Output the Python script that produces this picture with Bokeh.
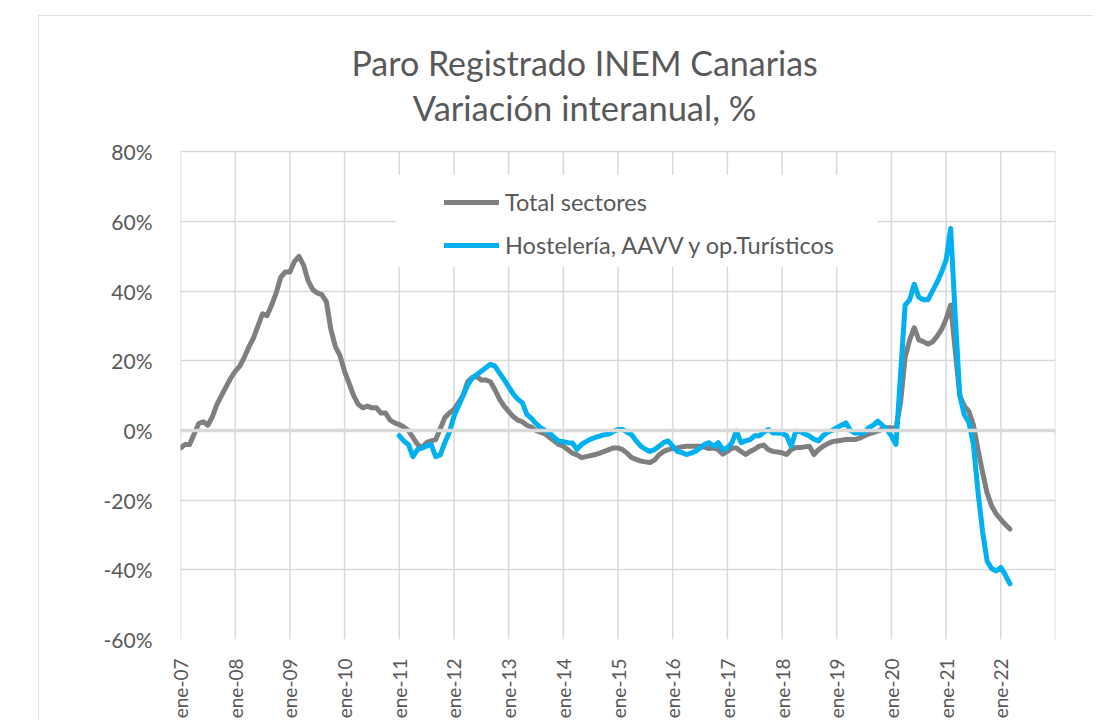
import numpy as np
from bokeh.plotting import figure
from bokeh.models import (FixedTicker, Legend, LegendItem, Span, Label,
                          BoxAnnotation, Range1d)
from bokeh.embed import file_html
from bokeh.resources import INLINE

# ---------------- data ----------------
title_line1 = "Paro Registrado INEM Canarias"
title_line2 = "Variación interanual, %"
series_names = ["Total sectores", "Hostelería, AAVV y op.Turísticos"]

tick_years = list(range(2007, 2024))
tick_labels = ["ene-07", "ene-08", "ene-09", "ene-10", "ene-11", "ene-12",
               "ene-13", "ene-14", "ene-15", "ene-16", "ene-17", "ene-18",
               "ene-19", "ene-20", "ene-21", "ene-22", ""]
y_ticks = [-60, -40, -20, 0, 20, 40, 60, 80]

total_start_year = 2007   # first monthly value: ene-07
total_sectores = [
    -5, -4, -4, -1, 2, 2.5, 1.5, 4, 7.5, 10, 12.5, 15,                 # 2007
    17, 18.5, 21, 24, 26.5, 30, 33.5, 33, 36, 39.5, 44, 45.5,          # 2008
    45.5, 48.5, 50, 47.5, 43, 40.5, 39.5, 39, 37, 29, 24, 21.5,        # 2009
    17, 13.5, 10, 7.5, 6.5, 7, 6.5, 6.5, 5, 5, 3, 2.2,                 # 2010
    1.7, 1, 0, -2, -4, -5, -3.5, -3, -2.6, 0.5, 3.7, 5,                # 2011
    6, 8, 10, 14, 15.2, 15.5, 14.5, 14.5, 14, 11.7, 9, 7,              # 2012
    5.5, 4, 3, 2.5, 1.5, 1, 0, -0.5, -1, -2, -3, -4,                   # 2013
    -4.5, -5.5, -6.5, -7, -7.8, -7.5, -7.2, -6.9, -6.5, -6, -5.5, -5,  # 2014
    -5, -5.5, -6.5, -7.8, -8.3, -8.8, -9, -9.2, -8.5, -7, -6, -5.5,    # 2015
    -5.2, -5, -4.7, -4.5, -4.5, -4.5, -4.5, -4.8, -5.2, -5, -5.5, -6.8,# 2016
    -6, -5, -5, -6, -6.9, -6, -5.4, -4.5, -4.2, -5.5, -6, -6.2,        # 2017
    -6.4, -6.9, -5.5, -4.9, -4.9, -4.7, -4.5, -6.9, -5.5, -4.5, -3.8, -3.2,  # 2018
    -3, -2.8, -2.6, -2.6, -2.6, -2.2, -1.6, -1, -0.6, -0.2, 0.4, 0.8,  # 2019
    0.8, 0.6, 8, 21, 26, 29.5, 26, 25.5, 24.8, 25.4, 27, 29,           # 2020
    32, 36, 23, 10, 7, 5.5, 1.5, -5.5, -12, -18, -21.7, -24,           # 2021
    -25.5, -27, -28.3,                                                 # 2022
]

hosteleria_start_year = 2011   # first monthly value: ene-11
hosteleria = [
    -1.5, -3, -4, -7.5, -5.5, -5, -4.5, -4, -7.5, -7, -3.5, -0.5,      # 2011
    4, 7, 10, 13, 15, 16, 17, 18, 19, 18.5, 16.5, 14.6,                # 2012
    12.6, 10.5, 9, 8, 4.6, 3.5, 2, 0.8, 0, -0.7, -2, -3,               # 2013
    -3.2, -3.5, -3.6, -5.4, -4, -3.2, -2.5, -2, -1.6, -1.2, -1, -0.3,  # 2014
    0.3, 0.3, -0.5, -1.2, -3, -4.5, -5.4, -6, -5.5, -4.5, -3.5, -3,    # 2015
    -4.5, -6, -6.3, -6.9, -6.5, -6, -5, -4, -3.5, -4.5, -3.5, -5.5,    # 2016
    -5, -3.5, -0.2, -3.5, -3, -2.6, -1.5, -1.5, -0.5, 0.3, -0.7, -0.7, # 2017
    -0.8, -1.5, -4.5, -0.2, -0.3, -1, -1.6, -2.5, -3, -1.5, -0.5, 0,   # 2018
    0.8, 1.5, 2.2, 0, -0.7, -0.7, -0.7, 0.8, 1.5, 2.7, 1.5, 0.3,       # 2019
    -1.6, -4, 16, 36, 37.5, 42, 38.3, 37.5, 37.5, 40, 42.5, 45.5,      # 2020
    49, 58, 33, 10, 4.5, 2.3, -4, -17.7, -29, -37.5, -39.7, -40.3,     # 2021
    -39.3, -41.5, -44,                                                 # 2022
]

# month positions on a fractional-year axis
x_total = [total_start_year + i / 12 for i in range(len(total_sectores))]
x_host = [hosteleria_start_year + i / 12 for i in range(len(hosteleria))]

# ---------------- styling ----------------
FONT = "Lato"
TXT = "#595959"
GRID = "#d9d9d9"
GRAY = "#7f7f7f"
BLUE = "#00b0f0"

# the frame extends above the 80% gridline to hold the two-line title
y_top = 117.7
title_x = 2014.39

p = figure(width=1055, height=706, output_backend="svg", toolbar_location=None,
           x_range=Range1d(tick_years[0], tick_years[-1]),
           y_range=Range1d(y_ticks[0], y_top),
           min_border_left=142, min_border_right=38,
           min_border_top=5, min_border_bottom=80)
p.margin = (15, 0, 0, 38)
p.styles = {"outline": "1.5px solid #d9d9d9", "outline-offset": "-1px"}
p.outline_line_color = None
p.background_fill_color = "white"
p.border_fill_color = "white"

# axes
p.xaxis.ticker = FixedTicker(ticks=tick_years)
p.xaxis.major_label_overrides = {y: l for y, l in zip(tick_years, tick_labels)}
p.xaxis.major_label_orientation = np.pi / 2
p.xaxis.axis_line_color = None
p.xaxis.major_tick_line_color = None
p.xaxis.minor_tick_line_color = None
p.xaxis.major_label_standoff = 13
p.xaxis.major_label_text_font = FONT
p.xaxis.major_label_text_font_size = "19px"
p.xaxis.major_label_text_color = TXT

p.yaxis.ticker = FixedTicker(ticks=y_ticks)
p.yaxis.major_label_overrides = {v: f"{v}%" for v in y_ticks}
p.yaxis.axis_line_color = None
p.yaxis.major_tick_line_color = None
p.yaxis.minor_tick_line_color = None
p.yaxis.major_label_standoff = 22
p.yaxis.major_label_text_font = FONT
p.yaxis.major_label_text_font_size = "21px"
p.yaxis.major_label_text_color = TXT

p.xgrid.visible = False
p.ygrid.ticker = FixedTicker(ticks=y_ticks)
p.ygrid.grid_line_color = GRID
p.ygrid.grid_line_width = 1.5

# vertical gridlines limited to the value range
p.segment(x0=tick_years, y0=[y_ticks[0]] * len(tick_years), x1=tick_years,
          y1=[y_ticks[-1]] * len(tick_years), line_color=GRID, line_width=1.5)

# horizontal category axis crossing at 0
p.add_layout(Span(location=0, dimension="width", line_color=GRID, line_width=3.5))
p.segment(x0=tick_years, y0=[0] * len(tick_years), x1=tick_years,
          y1=[-1.6] * len(tick_years), line_color=GRID, line_width=1.5)

r_total = p.line(x_total, total_sectores, line_color=GRAY, line_width=5,
                 line_join="round", line_cap="round")
r_host = p.line(x_host, hosteleria, line_color=BLUE, line_width=5,
                line_join="round", line_cap="round")

# white legend area (covers gridlines like the original)
p.add_layout(BoxAnnotation(left=2010.93, right=2019.75, top=73.4, bottom=46.9,
                           fill_color="white", fill_alpha=1, line_color=None))

legend = Legend(items=[LegendItem(label=series_names[0], renderers=[r_total]),
                       LegendItem(label=series_names[1], renderers=[r_host])],
                location=(264, 380), orientation="vertical",
                glyph_width=55, glyph_height=28, label_height=28,
                spacing=15, padding=15, label_standoff=6,
                label_text_font=FONT, label_text_font_size="23.5px",
                label_text_color=TXT, border_line_color=None,
                background_fill_alpha=0)
p.add_layout(legend)

# title (two lines, centred over the chart)
p.add_layout(Label(x=title_x, y=105.5, text=title_line1, text_align="center",
                   text_baseline="middle", text_font=FONT,
                   text_font_size="34px", text_color=TXT))
p.add_layout(Label(x=title_x, y=92.6, text=title_line2, text_align="center",
                   text_baseline="middle", text_font=FONT,
                   text_font_size="34.5px", text_color=TXT))

open("out.html", "w").write(file_html(p, INLINE))
